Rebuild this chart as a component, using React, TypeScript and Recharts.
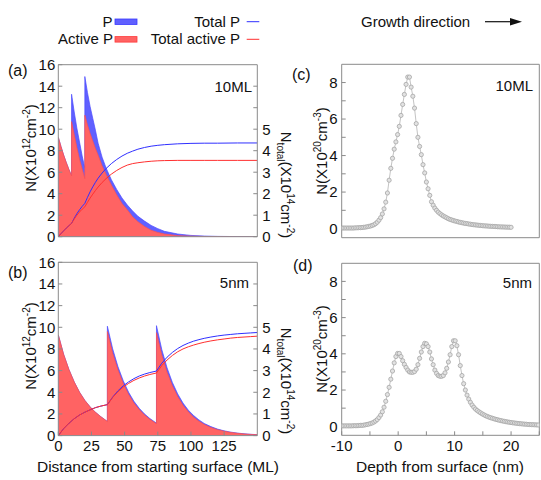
import React from "react";
import { ComposedChart, Area, Line, XAxis, YAxis } from "recharts";

const FONT = "'Liberation Sans', Arial, Helvetica, sans-serif";
const FRAME = "#8a8a8a";
const BLUE_FILL = "#6060ff";
const RED_FILL = "#ff6363";
const BLUE_LINE = "#2f2fff";
const RED_LINE = "#ff2f2f";

// (a) delta layers every 10 ML
const POS_A = [0, 2, 4, 6, 8, 10, 10, 12, 14, 16, 18, 20, 20, 22, 24, 26, 28, 30, 33, 36, 40, 44, 48, 52, 56, 60, 65, 70, 75, 80, 90, 100, 110, 120, 135, 150];
const P_A = [9.25, 8.4, 7.6, 6.9, 6.25, 5.65, 13.25, 11.6, 10.1, 8.8, 7.5, 6.4, 14.9, 13.4, 12.1, 11.0, 9.9, 8.7, 7.4, 6.4, 5.3, 4.4, 3.6, 2.95, 2.4, 1.9, 1.45, 1.05, 0.75, 0.5, 0.25, 0.12, 0.06, 0.03, 0.01, 0];
const ACTIVE_A = [9.25, 8.4, 7.6, 6.9, 6.25, 5.65, 10.7, 9.5, 8.3, 7.2, 6.3, 5.4, 11.3, 10.4, 9.6, 8.9, 8.2, 7.6, 6.6, 5.8, 4.8, 3.9, 3.1, 2.5, 1.85, 1.4, 0.95, 0.6, 0.4, 0.25, 0.1, 0.05, 0.02, 0.01, 0, 0];
const TOTAL_P_A = [0, 0.14, 0.27, 0.4, 0.51, 0.62, 0.62, 0.86, 1.07, 1.25, 1.41, 1.55, 1.55, 1.83, 2.09, 2.32, 2.53, 2.72, 2.96, 3.17, 3.4, 3.59, 3.75, 3.88, 3.98, 4.07, 4.15, 4.21, 4.25, 4.28, 4.32, 4.34, 4.35, 4.35, 4.36, 4.36];
const TOTAL_ACTIVE_A = [0, 0.14, 0.27, 0.4, 0.51, 0.62, 0.62, 0.82, 1.0, 1.15, 1.28, 1.39, 1.39, 1.6, 1.8, 1.98, 2.15, 2.31, 2.52, 2.7, 2.91, 3.08, 3.22, 3.33, 3.4, 3.44, 3.48, 3.51, 3.53, 3.54, 3.55, 3.55, 3.55, 3.55, 3.55, 3.55];

// (b) delta layers every 5 nm (~37 ML)
const POS_B = [0, 4, 8, 12, 16, 20, 24, 28, 32, 37, 37, 41, 45, 49, 53, 57, 61, 65, 69, 74, 74, 78, 82, 86, 90, 94, 98, 102, 106, 110, 115, 120, 125, 130, 135, 140, 145, 150];
const P_B = [9.3, 7.5, 6.1, 4.95, 4.0, 3.25, 2.65, 2.15, 1.75, 1.3, 10.1, 8.0, 6.35, 5.05, 4.0, 3.17, 2.52, 2.0, 1.58, 1.15, 10.15, 7.95, 6.25, 4.9, 3.85, 3.0, 2.35, 1.85, 1.45, 1.12, 0.83, 0.6, 0.44, 0.32, 0.23, 0.17, 0.12, 0.09];
const ACTIVE_B = [9.3, 7.5, 6.1, 4.95, 4.0, 3.25, 2.65, 2.15, 1.75, 1.3, 9.6, 7.6, 6.05, 4.8, 3.8, 3.0, 2.4, 1.9, 1.5, 1.1, 9.5, 7.45, 5.85, 4.6, 3.6, 2.8, 2.2, 1.7, 1.33, 1.03, 0.75, 0.55, 0.4, 0.29, 0.21, 0.15, 0.11, 0.08];
const TOTAL_P_B = [0, 0.32, 0.57, 0.78, 0.95, 1.08, 1.19, 1.29, 1.36, 1.43, 1.43, 1.78, 2.07, 2.3, 2.48, 2.63, 2.75, 2.84, 2.91, 2.98, 2.98, 3.34, 3.62, 3.84, 4.02, 4.16, 4.27, 4.36, 4.43, 4.49, 4.55, 4.6, 4.64, 4.67, 4.7, 4.72, 4.74, 4.76];
const TOTAL_ACTIVE_B = [0, 0.32, 0.57, 0.78, 0.95, 1.08, 1.19, 1.29, 1.36, 1.43, 1.43, 1.76, 2.03, 2.24, 2.41, 2.55, 2.66, 2.75, 2.82, 2.89, 2.89, 3.23, 3.49, 3.7, 3.87, 4.0, 4.1, 4.18, 4.25, 4.31, 4.37, 4.42, 4.46, 4.5, 4.53, 4.55, 4.57, 4.59];

// (c), (d) depth profiles, nm
const DEPTH = [
  -10, -9.7, -9.4, -9.1, -8.8, -8.5, -8.2, -7.9, -7.6, -7.3,
  -7, -6.7, -6.4, -6.1, -5.8, -5.5, -5.2, -4.9, -4.6, -4.3,
  -4, -3.7, -3.4, -3.1, -2.8, -2.5, -2.2, -1.9, -1.6, -1.3,
  -1, -0.7, -0.4, -0.1, 0.2, 0.5, 0.8, 1.1, 1.4, 1.7,
  2, 2.3, 2.6, 2.9, 3.2, 3.5, 3.8, 4.1, 4.4, 4.7,
  5, 5.3, 5.6, 5.9, 6.2, 6.5, 6.8, 7.1, 7.4, 7.7,
  8, 8.3, 8.6, 8.9, 9.2, 9.5, 9.8, 10.1, 10.4, 10.7,
  11, 11.3, 11.6, 11.9, 12.2, 12.5, 12.8, 13.1, 13.4, 13.7,
  14, 14.3, 14.6, 14.9, 15.2, 15.5, 15.8, 16.1, 16.4, 16.7,
  17, 17.3, 17.6, 17.9, 18.2, 18.5, 18.8, 19.1, 19.4, 19.7,
  20, 20.3, 20.6, 20.9, 21.2, 21.5, 21.8, 22.1, 22.4, 22.7,
  23, 23.3, 23.6, 23.9, 24.2, 24.5, 24.8,
];
const CONC_C = [
  0.03, 0.03, 0.03, 0.03, 0.03, 0.03, 0.03, 0.03, 0.04, 0.04,
  0.05, 0.05, 0.06, 0.07, 0.08, 0.1, 0.12, 0.14, 0.17, 0.21,
  0.27, 0.35, 0.46, 0.6, 0.8, 1.08, 1.45, 1.95, 2.65, 3.3,
  3.85, 4.35, 4.75, 5.15, 5.6, 6.2, 6.8, 7.35, 7.9, 8.3,
  8.3, 7.75, 7.25, 6.6, 5.75, 5.0, 4.5, 4.05, 3.5, 3.05,
  2.55, 2.18, 1.82, 1.47, 1.28, 1.12, 1.0, 0.9, 0.82, 0.75,
  0.69, 0.64, 0.59, 0.54, 0.5, 0.47, 0.44, 0.41, 0.39, 0.36,
  0.34, 0.32, 0.3, 0.28, 0.27, 0.25, 0.24, 0.22, 0.21, 0.2,
  0.19, 0.18, 0.17, 0.16, 0.15, 0.145, 0.14, 0.13, 0.125, 0.12,
  0.115, 0.11, 0.1, 0.095, 0.09, 0.088, 0.085, 0.08, 0.078, 0.075,
  0.07,
];
const CONC_D = [
  0.02, 0.02, 0.02, 0.02, 0.02, 0.02, 0.02, 0.03, 0.03, 0.03,
  0.04, 0.05, 0.05, 0.06, 0.08, 0.1, 0.12, 0.15, 0.18, 0.23,
  0.29, 0.37, 0.48, 0.62, 0.8, 1.05, 1.38, 1.75, 2.15, 2.6,
  3.05, 3.5, 3.85, 4.02, 4.02, 3.85, 3.62, 3.42, 3.25, 3.1,
  3.0, 2.98, 2.98, 3.02, 3.15, 3.4, 3.75, 4.1, 4.4, 4.58,
  4.55, 4.4, 4.1, 3.72, 3.4, 3.1, 2.92, 2.8, 2.76, 2.76,
  2.8, 2.95, 3.2, 3.55, 3.95, 4.4, 4.72, 4.72, 4.45, 3.95,
  3.35, 2.8, 2.35, 2.0, 1.72, 1.5, 1.32, 1.17, 1.05, 0.95,
  0.87, 0.8, 0.74, 0.68, 0.63, 0.58, 0.54, 0.5, 0.47, 0.44,
  0.41, 0.38, 0.36, 0.33, 0.31, 0.29, 0.27, 0.25, 0.235, 0.22,
  0.205, 0.19, 0.18, 0.165, 0.155, 0.145, 0.135, 0.125, 0.115, 0.11,
  0.1, 0.095, 0.09, 0.085, 0.08, 0.075, 0.07,
];

const TICKS_ML = [0, 25, 50, 75, 100, 125];
const TICKS_N = [0, 2, 4, 6, 8, 10, 12, 14, 16];
const TICKS_TOTAL = [0, 1, 2, 3, 4, 5, 6, 7];
const TICKS_DEPTH = [-10, -5, 0, 5, 10, 15, 20, 25];
const TICKS_CONC = [0, 1, 2, 3, 4, 5, 6, 7, 8];

const TICK = { fill: "#111", fontSize: 15, fontFamily: FONT };

type Row = { [k: string]: number };

function distanceRows(x: number[], p: number[], a: number[], tp: number[], ta: number[]): Row[] {
  return x.map((v, i) => ({ x: v, p: p[i], active: a[i], totalP: tp[i], totalActive: ta[i] }));
}

function depthRows(n: number[]): Row[] {
  return n.map((v, i) => ({ x: DEPTH[i], n: v }));
}

const rowsA = distanceRows(POS_A, P_A, ACTIVE_A, TOTAL_P_A, TOTAL_ACTIVE_A);
const rowsB = distanceRows(POS_B, P_B, ACTIVE_B, TOTAL_P_B, TOTAL_ACTIVE_B);
const rowsC = depthRows(CONC_C);
const rowsD = depthRows(CONC_D);

function DistancePanel(props: { rows: Row[]; top: number; height: number; marginTop: number; bottomHeight: number; showX: boolean }) {
  const { rows, top, height, marginTop, bottomHeight, showX } = props;
  return (
    <div style={{ position: "absolute", left: 0, top, width: 300, height }}>
      <ComposedChart width={300} height={height} data={rows} margin={{ top: marginTop, right: 0, bottom: 0, left: 0 }}>
        <XAxis xAxisId="b" dataKey="x" type="number" domain={[0, 150]} ticks={TICKS_ML} interval={0}
          height={bottomHeight} stroke={FRAME} tickSize={-4} tickMargin={9}
          tick={showX ? TICK : false} allowDataOverflow />
        <XAxis xAxisId="t" orientation="top" type="number" domain={[0, 150]} ticks={TICKS_ML} interval={0}
          height={1} stroke={FRAME} tickSize={-4} tick={false} allowDataOverflow />
        <YAxis yAxisId="l" type="number" domain={[0, 16]} ticks={TICKS_N} interval={0} width={58.3}
          stroke={FRAME} tickSize={-4} tickMargin={7} tick={TICK} allowDataOverflow />
        <YAxis yAxisId="r" orientation="right" type="number" domain={[0, 8]} ticks={TICKS_TOTAL} interval={0}
          width={42.7} stroke={FRAME} tickSize={-4} tickMargin={9} tick={TICK}
          tickFormatter={(v: number) => (v <= 5 ? String(v) : "")} allowDataOverflow />
        <Area xAxisId="b" yAxisId="l" dataKey="p" type="linear" fill={BLUE_FILL} fillOpacity={1}
          stroke="#4a4aff" strokeWidth={0.7} dot={false} activeDot={false} isAnimationActive={false} />
        <Area xAxisId="b" yAxisId="l" dataKey="active" type="linear" fill={RED_FILL} fillOpacity={1}
          stroke="#ff5050" strokeWidth={0.7} dot={false} activeDot={false} isAnimationActive={false} />
        <Line xAxisId="b" yAxisId="r" dataKey="totalP" type="linear" stroke={BLUE_LINE} strokeWidth={1}
          dot={false} activeDot={false} isAnimationActive={false} />
        <Line xAxisId="b" yAxisId="r" dataKey="totalActive" type="linear" stroke={RED_LINE} strokeWidth={1}
          dot={false} activeDot={false} isAnimationActive={false} />
      </ComposedChart>
    </div>
  );
}

function DepthPanel(props: { rows: Row[]; top: number; height: number; marginTop: number; bottomHeight: number; showX: boolean }) {
  const { rows, top, height, marginTop, bottomHeight, showX } = props;
  return (
    <div style={{ position: "absolute", left: 290, top, width: 251, height }}>
      <ComposedChart width={251} height={height} data={rows} margin={{ top: marginTop, right: 0.7, bottom: 0, left: 0 }}>
        <XAxis xAxisId="b" dataKey="x" type="number" domain={[-10, 25]} ticks={TICKS_DEPTH} interval={0}
          height={bottomHeight} stroke={FRAME} tickSize={-4} tickMargin={9}
          tick={showX ? TICK : false}
          tickFormatter={(v: number) => (v % 10 === 0 ? String(v) : "")} allowDataOverflow />
        <XAxis xAxisId="t" orientation="top" type="number" domain={[-10, 25]} ticks={TICKS_DEPTH} interval={0}
          height={1} stroke={FRAME} tickSize={-4} tick={false} allowDataOverflow />
        <YAxis yAxisId="l" type="number" domain={[-0.5, 9]} ticks={TICKS_CONC} interval={0} width={51.7}
          stroke={FRAME} tickSize={-4} tickMargin={8} tick={TICK}
          tickFormatter={(v: number) => (v % 2 === 0 ? String(v) : "")} allowDataOverflow />
        <YAxis yAxisId="r" orientation="right" type="number" domain={[-0.5, 9]} ticks={TICKS_CONC} interval={0}
          width={1} stroke={FRAME} tickSize={-4} tick={false} allowDataOverflow />
        <Line xAxisId="b" yAxisId="l" dataKey="n" type="linear" stroke="#b4b4b4" strokeWidth={0.8}
          dot={{ r: 2.1, stroke: "#a6a6a6", strokeWidth: 0.8, fill: "#e2e2e2" }}
          activeDot={false} isAnimationActive={false} />
      </ComposedChart>
    </div>
  );
}

function Sup({ children }: { children: React.ReactNode }) {
  return <tspan dy={-6} fontSize={10}>{children}</tspan>;
}

function LeftTitle({ x, y, exp, unitExp }: { x: number; y: number; exp: string; unitExp: string }) {
  return (
    <text transform={`translate(${x},${y}) rotate(-90)`} y={5.4} textAnchor="middle" fontSize={15}>
      N(X10<Sup>{exp}</Sup><tspan dy={6}>cm</tspan><Sup>{unitExp}</Sup><tspan dy={6}>)</tspan>
    </text>
  );
}

function RightTitle({ x, y }: { x: number; y: number }) {
  return (
    <text transform={`translate(${x},${y}) rotate(90)`} y={5.4} textAnchor="middle" fontSize={15}>
      N<tspan dy={4} fontSize={10}>total</tspan><tspan dy={-4}>(X10</tspan><Sup>14</Sup><tspan dy={6}>cm</tspan><Sup>-2</Sup><tspan dy={6}>)</tspan>
    </text>
  );
}

export default function App() {
  return (
    <div style={{ position: "absolute", left: 0, top: 0, width: 541, height: 480, background: "#fff", fontFamily: FONT }}>
      <DistancePanel rows={rowsA} top={50} height={200} marginTop={13.7} bottomHeight={13.3} showX={false} />
      <DistancePanel rows={rowsB} top={250} height={230} marginTop={11.3} bottomHeight={44.4} showX={true} />
      <DepthPanel rows={rowsC} top={50} height={200} marginTop={13.3} bottomHeight={12.3} showX={false} />
      <DepthPanel rows={rowsD} top={250} height={230} marginTop={12.3} bottomHeight={44.7} showX={true} />
      <svg width={541} height={480} style={{ position: "absolute", left: 0, top: 0, pointerEvents: "none" }}
        fontFamily={FONT} fill="#111">
        {/* legend */}
        <text x={112.5} y={26.7} textAnchor="end" fontSize={15}>P</text>
        <rect x={115} y={19} width={22} height={5.5} fill={BLUE_FILL} stroke="#3a3aff" strokeWidth={0.8} />
        <text x={113} y={44.3} textAnchor="end" fontSize={15}>Active P</text>
        <rect x={115} y={36.6} width={22} height={5.5} fill={RED_FILL} stroke="#ff3a3a" strokeWidth={0.8} />
        <text x={240} y={26.7} textAnchor="end" fontSize={15}>Total P</text>
        <line x1={246.7} x2={259.3} y1={21.7} y2={21.7} stroke={BLUE_LINE} strokeWidth={1} />
        <text x={240} y={44.3} textAnchor="end" fontSize={15}>Total active P</text>
        <line x1={246.7} x2={259.3} y1={39.3} y2={39.3} stroke={RED_LINE} strokeWidth={1} />

        {/* growth direction */}
        <text x={361} y={27} fontSize={15}>Growth direction</text>
        <line x1={485} x2={513} y1={21.7} y2={21.7} stroke="#111" strokeWidth={1.2} />
        <polygon points="510,18 522,21.7 510,25.4" fill="#111" />

        {/* panel tags */}
        <text x={8} y={75.6} fontSize={16}>(a)</text>
        <text x={8} y={277.6} fontSize={16}>(b)</text>
        <text x={292} y={79.5} fontSize={16}>(c)</text>
        <text x={293} y={270.6} fontSize={16}>(d)</text>

        <text x={252} y={92} textAnchor="end" fontSize={15}>10ML</text>
        <text x={249} y={288} textAnchor="end" fontSize={15}>5nm</text>
        <text x={533} y={91} textAnchor="end" fontSize={15}>10ML</text>
        <text x={532} y={288.4} textAnchor="end" fontSize={15}>5nm</text>

        {/* axis titles */}
        <LeftTitle x={31} y={148} exp="12" unitExp="-2" />
        <LeftTitle x={31} y={346} exp="12" unitExp="-2" />
        <LeftTitle x={322} y={151} exp="20" unitExp="-3" />
        <LeftTitle x={322} y={349} exp="20" unitExp="-3" />
        <RightTitle x={286} y={185} />
        <RightTitle x={286} y={381} />
        <text x={158} y={471.5} textAnchor="middle" fontSize={15.5}>Distance from starting surface (ML)</text>
        <text x={440} y={472} textAnchor="middle" fontSize={15.5}>Depth from surface (nm)</text>
      </svg>
    </div>
  );
}
